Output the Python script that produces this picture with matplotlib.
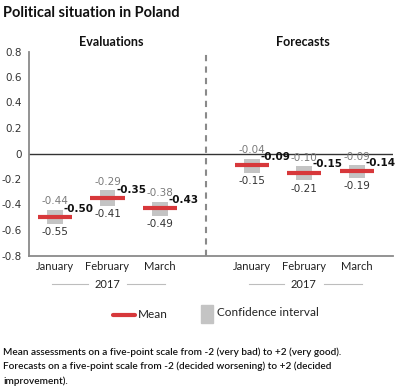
import matplotlib
matplotlib.use("Agg")
from matplotlib import pyplot as plt
from matplotlib.lines import Line2D
from matplotlib.patches import Rectangle
import matplotlib.transforms as mtransforms

# data
months = ["January", "February", "March"]
year = "2017"

eval_mean = [-0.50, -0.35, -0.43]
eval_low = [-0.55, -0.41, -0.49]
eval_high = [-0.44, -0.29, -0.38]

fc_mean = [-0.09, -0.15, -0.14]
fc_low = [-0.15, -0.21, -0.19]
fc_high = [-0.04, -0.10, -0.09]

y_ticks = [0.8, 0.6, 0.4, 0.2, 0, -0.2, -0.4, -0.6, -0.8]
y_tick_labels = ["0.8", "0.6", "0.4", "0.2", "0", "-0.2", "-0.4", "-0.6", "-0.8"]

RED = "#d7383b"
GREY = "#c4c4c4"
TEXT = "Lato"
NUM = "DejaVu Sans"

W, H = 400, 390
fig = plt.figure(figsize=(W / 100, H / 100), dpi=100)
# axes placed by pixel box: left 29, right 393, top 51.5, bottom 255.5
ax = fig.add_axes([28.75 / W, 1 - 255.5 / H, (393 - 28.75) / W, (255.5 - 51.5) / H])
ax.set_xlim(-0.5, 6.44)
ax.set_ylim(-0.8, 0.8)

eval_x = [0, 1, 2]
fc_x = [3.75, 4.75, 5.75]
box_w = 0.30
bar_w = 0.65


def draw_group(xs, means, lows, highs):
    for x, m, lo, hi in zip(xs, means, lows, highs):
        ax.bar(x, hi - lo, bottom=lo, width=box_w, color=GREY, zorder=2)
        ax.plot([x - bar_w / 2, x + bar_w / 2], [m, m], color=RED, lw=3, zorder=3,
                solid_capstyle="butt")
        ax.annotate("%.2f" % hi, (x, hi), xytext=(0, 2.5), textcoords="offset points",
                    ha="center", va="bottom", fontsize=7.5, family=NUM, color="#7a7a7a")
        ax.annotate("%.2f" % lo, (x, lo), xytext=(0, -2.5), textcoords="offset points",
                    ha="center", va="top", fontsize=7.5, family=NUM, color="#333333")
        ax.annotate("%.2f" % m, (x + box_w / 2, m), xytext=(0.5, 6),
                    textcoords="offset points", ha="left", va="center",
                    fontsize=7.5, family=NUM, fontweight="bold", color="#111111", zorder=4)


draw_group(eval_x, eval_mean, eval_low, eval_high)
draw_group(fc_x, fc_mean, fc_low, fc_high)

# zero line and divider
ax.axhline(0, color="#333333", lw=1, zorder=1)
ax.axvline(2.875, color="#8a8a8a", lw=1.5, ls=(0, (3, 2.5)), zorder=1)

# axes styling
for s in ["top", "right"]:
    ax.spines[s].set_visible(False)
ax.spines["left"].set_color("#8a8a8a")
ax.spines["bottom"].set_color("#8a8a8a")
ax.spines["left"].set_linewidth(1.3)
ax.spines["bottom"].set_linewidth(1.3)
ax.set_yticks(y_ticks)
ax.set_yticklabels(y_tick_labels, family=NUM, fontsize=7.5, color="#333333")
ax.tick_params(axis="y", length=0, pad=5)
ax.set_xticks(eval_x + fc_x)
ax.set_xticklabels(months + months, family=TEXT, fontsize=8, color="#222222")
ax.tick_params(axis="x", length=0, pad=4)

# group headers and year markers
trans = mtransforms.blended_transform_factory(ax.transData, ax.transAxes)
for cx, name in [(1.08, "Evaluations"), (4.72, "Forecasts")]:
    ax.text(cx, 1 + 10 / 204, name, transform=trans, ha="center", va="center",
            family=TEXT, fontweight="bold", fontsize=9, color="#111111")
for cx in [1.0, 4.74]:
    yy = -28.5 / 204
    ax.text(cx, yy, year, transform=trans, ha="center", va="center",
            family=TEXT, fontsize=8, color="#222222")
    for a, b in [(cx - 1.05, cx - 0.38), (cx + 0.38, cx + 1.1)]:
        ax.plot([a, b], [yy, yy], transform=trans, color="#bdbdbd", lw=0.8, clip_on=False)

# title
fig.text(3 / W, 1 - 13 / H, "Political situation in Poland", ha="left", va="center",
         family=TEXT, fontweight="bold", fontsize=10.5, color="#111111")

# legend
fig.add_artist(Line2D([113 / W, 135 / W], [1 - 315 / H, 1 - 315 / H], color=RED, lw=3,
                      solid_capstyle="round"))
fig.text(138 / W, 1 - 315 / H, "Mean", ha="left", va="center", family=TEXT,
         fontsize=8.5, color="#222222")
fig.add_artist(Rectangle((201 / W, 1 - 323 / H), 12 / W, 18 / H, color=GREY))
fig.text(217 / W, 1 - 313 / H, "Confidence interval", ha="left", va="center",
         family=TEXT, fontsize=8.5, color="#222222")

# footnote
notes = ["Mean assessments on a five-point scale from -2 (very bad) to +2 (very good).",
         "Forecasts on a five-point scale from -2 (decided worsening) to +2 (decided",
         "improvement)."]
for i, line in enumerate(notes):
    fig.text(3 / W, 1 - (352 + 14.5 * i) / H, line, ha="left", va="center",
             family=TEXT, fontweight="semibold", fontsize=7.2, color="#111111")

fig.savefig("out.png", dpi=100)
